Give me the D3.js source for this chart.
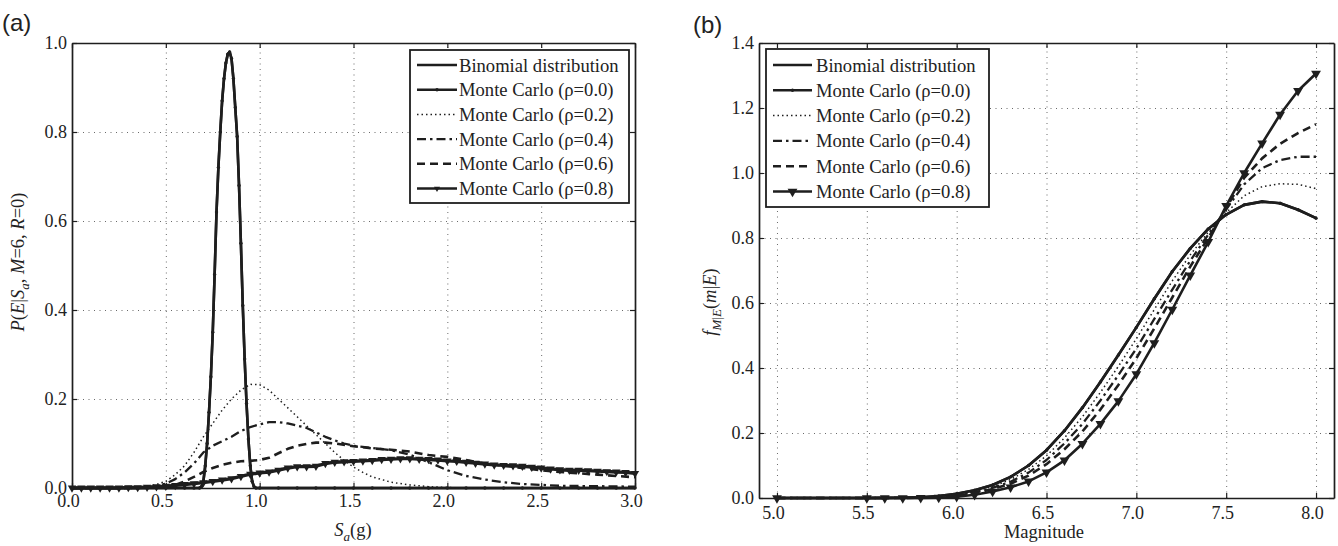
<!DOCTYPE html>
<html>
<head>
<meta charset="utf-8">
<script src="https://cdn.jsdelivr.net/npm/d3@7"></script>
<style>
  body { margin: 0; background: #fff; }
</style>
</head>
<body>
<svg id="chart" width="1338" height="546"></svg>
<script>
// ---------- Data: panel (a) ----------
// S_a grid for the sharp peak (binomial and rho=0.0 lie on top of each other)
const peakSa = [0, 0.1, 0.2, 0.3, 0.4, 0.5, 0.6, 0.65, 0.68,
  0.69, 0.70, 0.71, 0.72, 0.73, 0.74, 0.75, 0.76, 0.77, 0.78,
  0.79, 0.80, 0.81, 0.82, 0.83, 0.84, 0.85, 0.86, 0.87, 0.88,
  0.89, 0.90, 0.91, 0.92, 0.93, 0.94, 0.95, 0.96, 0.97, 0.98,
  1.0, 1.1, 1.2, 1.3, 1.4, 1.5, 1.6, 1.7, 1.8, 1.9, 2.0,
  2.1, 2.2, 2.3, 2.4, 2.5, 2.6, 2.7, 2.8, 2.9, 3.0];
const binomialA = [0, 0, 0, 0, 0, 0, 0, 0, 0,
  0.003, 0.015, 0.05, 0.10, 0.17, 0.25, 0.35, 0.48, 0.62, 0.72,
  0.80, 0.87, 0.92, 0.955, 0.975, 0.98, 0.965, 0.92, 0.855, 0.79,
  0.68, 0.55, 0.41, 0.29, 0.19, 0.11, 0.05, 0.015, 0.003, 0,
  0, 0, 0, 0, 0, 0, 0, 0, 0, 0, 0,
  0, 0, 0, 0, 0, 0, 0, 0, 0, 0];
const rho0A = binomialA;

const rho2Sa = [0, 0.3, 0.4, 0.45, 0.5, 0.55, 0.6, 0.65, 0.7, 0.75,
  0.8, 0.85, 0.9, 0.95, 1.0, 1.05, 1.1, 1.15, 1.2, 1.25,
  1.3, 1.35, 1.4, 1.45, 1.5, 1.55, 1.6, 1.7, 1.8, 1.9,
  2.0, 2.2, 2.5, 3.0];
const rho2A = [0, 0, 0.003, 0.008, 0.015, 0.03, 0.05, 0.08, 0.115, 0.145,
  0.175, 0.2, 0.22, 0.233, 0.232, 0.22, 0.2, 0.18, 0.16, 0.14,
  0.12, 0.1, 0.08, 0.062, 0.047, 0.035, 0.025, 0.013, 0.007, 0.003,
  0.001, 0, 0, 0];

const rho4Sa = [0, 0.35, 0.45, 0.5, 0.55, 0.6, 0.65, 0.7, 0.75, 0.8,
  0.85, 0.9, 0.95, 1.0, 1.05, 1.1, 1.15, 1.2, 1.25, 1.3,
  1.35, 1.4, 1.45, 1.5, 1.6, 1.7, 1.8, 1.9, 2.0, 2.1,
  2.2, 2.3, 2.4, 2.5, 2.6, 2.8, 3.0];
const rho4A = [0, 0, 0.004, 0.01, 0.02, 0.035, 0.055, 0.08, 0.095, 0.105,
  0.115, 0.128, 0.137, 0.143, 0.148, 0.148, 0.145, 0.14, 0.135, 0.125,
  0.115, 0.107, 0.1, 0.095, 0.09, 0.085, 0.075, 0.058, 0.04, 0.027,
  0.019, 0.013, 0.009, 0.007, 0.005, 0.004, 0.003];

const rho6Sa = [0, 0.4, 0.5, 0.55, 0.6, 0.65, 0.7, 0.75, 0.8, 0.85,
  0.9, 0.95, 1.0, 1.05, 1.1, 1.15, 1.2, 1.25, 1.3, 1.35,
  1.4, 1.5, 1.6, 1.7, 1.8, 1.9, 2.0, 2.1, 2.2, 2.3,
  2.4, 2.5, 2.6, 2.7, 2.8, 2.9, 3.0];
const rho6A = [0, 0, 0.003, 0.007, 0.015, 0.025, 0.036, 0.045, 0.052, 0.057,
  0.06, 0.061, 0.063, 0.068, 0.078, 0.088, 0.095, 0.099, 0.102, 0.102,
  0.1, 0.094, 0.089, 0.086, 0.082, 0.074, 0.07, 0.063, 0.055, 0.05,
  0.045, 0.04, 0.036, 0.033, 0.03, 0.027, 0.024];

// rho=0.8 is sampled every 0.05 g
const rho8Sa = d3.range(61).map(i => i * 0.05);
const rho8A = [0, 0, 0, 0, 0, 0, 0.001, 0.001, 0.002, 0.003,
  0.004, 0.006, 0.008, 0.010, 0.012, 0.015, 0.018, 0.021, 0.026, 0.031,
  0.034, 0.036, 0.040, 0.045, 0.048, 0.048, 0.049, 0.055, 0.058, 0.059,
  0.060, 0.061, 0.062, 0.064, 0.065, 0.066, 0.066, 0.065, 0.064, 0.063,
  0.061, 0.060, 0.058, 0.056, 0.054, 0.052, 0.051, 0.050, 0.049, 0.047,
  0.045, 0.043, 0.041, 0.040, 0.040, 0.039, 0.038, 0.037, 0.036, 0.035,
  0.033];

// ---------- Data: panel (b) ----------
const magnitudes = [5.0, 5.5, 5.6, 5.7, 5.8, 5.9, 6.0, 6.1, 6.2, 6.3,
  6.4, 6.5, 6.6, 6.7, 6.8, 6.9, 7.0, 7.1, 7.2, 7.3,
  7.4, 7.5, 7.6, 7.7, 7.8, 7.9, 8.0];
const rho0B = [0, 0, 0.0005, 0.001, 0.002, 0.006, 0.013, 0.024, 0.04, 0.065,
  0.1, 0.147, 0.207, 0.278, 0.357, 0.44, 0.525, 0.613, 0.697, 0.768,
  0.828, 0.872, 0.902, 0.912, 0.907, 0.887, 0.861];
const binomialB = rho0B;
const rho2B = [0, 0, 0, 0.001, 0.002, 0.005, 0.011, 0.021, 0.035, 0.057,
  0.088, 0.13, 0.185, 0.25, 0.325, 0.405, 0.49, 0.58, 0.668, 0.748,
  0.818, 0.878, 0.93, 0.958, 0.967, 0.965, 0.952];
const rho4B = [0, 0, 0, 0.0005, 0.001, 0.004, 0.009, 0.018, 0.031, 0.05,
  0.078, 0.117, 0.168, 0.228, 0.3, 0.378, 0.46, 0.551, 0.641, 0.73,
  0.81, 0.888, 0.965, 1.015, 1.04, 1.05, 1.05];
const rho6B = [0, 0, 0, 0, 0.001, 0.003, 0.007, 0.015, 0.027, 0.044,
  0.069, 0.104, 0.15, 0.205, 0.272, 0.348, 0.43, 0.522, 0.617, 0.712,
  0.8, 0.893, 0.985, 1.045, 1.09, 1.123, 1.15];
const rho8B = [0, 0, 0, 0, 0.0005, 0.001, 0.004, 0.01, 0.02, 0.033,
  0.051, 0.079, 0.116, 0.167, 0.228, 0.298, 0.381, 0.477, 0.58, 0.685,
  0.788, 0.899, 1.0, 1.091, 1.18, 1.253, 1.306];

// ---------- Ticks and legend labels ----------
const saTicks = [0, 0.5, 1.0, 1.5, 2.0, 2.5, 3.0];
const probTicks = [0, 0.2, 0.4, 0.6, 0.8, 1.0];
const magTicks = [5.0, 5.5, 6.0, 6.5, 7.0, 7.5, 8.0];
const densTicks = [0, 0.2, 0.4, 0.6, 0.8, 1.0, 1.2, 1.4];
const legendLabels = ["Binomial distribution", "Monte Carlo (ρ=0.0)",
  "Monte Carlo (ρ=0.2)", "Monte Carlo (ρ=0.4)", "Monte Carlo (ρ=0.6)",
  "Monte Carlo (ρ=0.8)"];

// Line styles shared by both panels (same order as the legend)
const styles = [
  { dash: null, width: 2.6, marker: null },
  { dash: null, width: 2.6, marker: "dot" },
  { dash: "1.5,3", width: 1.5, marker: null },
  { dash: "9,4,2.5,4", width: 2.3, marker: null },
  { dash: "8,5", width: 2.6, marker: null },
  { dash: null, width: 2.6, marker: "tri" },
];

const ink = "#1e1e1e";
const serif = "Liberation Serif";
const svg = d3.select("#chart");

function zip(xs, ys) {
  return xs.map((v, i) => [v, ys[i]]);
}

function drawMarker(sel, kind, triSize) {
  if (kind === "dot") {
    sel.append("circle").attr("r", 1.7).attr("fill", ink);
  } else if (kind === "tri") {
    sel.append("path")
      .attr("d", d3.symbol(d3.symbolTriangle, triSize)())
      .attr("transform", "rotate(180)")
      .attr("fill", ink);
  }
}

function drawPanel(cfg) {
  const g = svg.append("g");

  // Scales
  const x = d3.scaleLinear().domain(cfg.xDomain).range([cfg.left, cfg.right]);
  const y = d3.scaleLinear().domain(cfg.yDomain).range([cfg.bottom, cfg.top]);
  const h = cfg.bottom - cfg.top;
  const w = cfg.right - cfg.left;

  // Dotted grid
  g.append("g")
    .attr("transform", `translate(0,${cfg.bottom})`)
    .call(d3.axisBottom(x).tickValues(cfg.xGrid).tickSize(-h).tickFormat(""))
    .call(s => s.select(".domain").remove())
    .selectAll("line").attr("class", "grid");
  g.append("g")
    .attr("transform", `translate(${cfg.left},0)`)
    .call(d3.axisLeft(y).tickValues(cfg.yGrid).tickSize(-w).tickFormat(""))
    .call(s => s.select(".domain").remove())
    .selectAll("line").attr("class", "grid");
  g.selectAll("line.grid").attr("stroke", "#6a6a6a").attr("stroke-dasharray", "1,4.5");

  // Inward ticks on all four sides, labels on bottom and left
  const fmt = d3.format(".1f");
  const axes = g.append("g");
  const bottomAx = axes.append("g")
    .attr("transform", `translate(0,${cfg.bottom})`)
    .call(d3.axisBottom(x).tickValues(cfg.xTicks).tickSize(-5).tickSizeOuter(0)
      .tickFormat(fmt).tickPadding(cfg.xPad));
  const leftAx = axes.append("g")
    .attr("transform", `translate(${cfg.left},0)`)
    .call(d3.axisLeft(y).tickValues(cfg.yTicks).tickSize(-5).tickSizeOuter(0)
      .tickFormat(fmt).tickPadding(5));
  axes.append("g")
    .attr("transform", `translate(0,${cfg.top})`)
    .call(d3.axisTop(x).tickValues(cfg.xTicks).tickSize(-5).tickSizeOuter(0).tickFormat(""));
  axes.append("g")
    .attr("transform", `translate(${cfg.right},0)`)
    .call(d3.axisRight(y).tickValues(cfg.yTicks).tickSize(-5).tickSizeOuter(0).tickFormat(""));

  axes.selectAll(".domain").attr("stroke", ink).attr("stroke-width", 1.7);
  axes.selectAll(".tick line").attr("stroke", ink).attr("stroke-width", 1.2);

  bottomAx.selectAll("text").attr("font-size", 18).attr("dx", -4)
    .attr("font-family", serif).attr("fill", "#222");
  leftAx.selectAll("text").attr("font-size", 18)
    .attr("font-family", serif).attr("fill", "#222");

  // Curves
  const line = d3.line().x(d => x(d[0])).y(d => y(d[1]));
  cfg.series.forEach((s, i) => {
    const st = styles[i];
    const pts = zip(s.x, s.y);
    g.append("path")
      .attr("d", line(pts))
      .attr("fill", "none")
      .attr("stroke", ink)
      .attr("stroke-width", i === 5 ? cfg.bandWidth : st.width)
      .attr("stroke-linejoin", "round")
      .attr("stroke-dasharray", st.dash);
    if (st.marker) {
      g.append("g").selectAll("g")
        .data(pts)
        .join("g")
        .attr("transform", d => `translate(${x(d[0])},${y(d[1])})`)
        .each(function () { drawMarker(d3.select(this), st.marker, cfg.triSize); });
    }
  });

  // Legend
  const lg = cfg.legend;
  g.append("rect")
    .attr("x", lg.x).attr("y", lg.y).attr("width", lg.w).attr("height", lg.h)
    .attr("fill", "#fff").attr("stroke", ink).attr("stroke-width", 1.8);
  legendLabels.forEach((label, i) => {
    const st = styles[i];
    const cy = lg.row0 + i * lg.step;
    g.append("line")
      .attr("x1", lg.x1).attr("x2", lg.x2).attr("y1", cy).attr("y2", cy)
      .attr("stroke", ink).attr("stroke-width", st.width)
      .attr("stroke-dasharray", st.dash);
    if (st.marker) {
      const m = g.append("g").attr("transform", `translate(${(lg.x1 + lg.x2) / 2},${cy})`);
      drawMarker(m, st.marker, lg.triSize);
    }
    g.append("text")
      .attr("x", lg.tx).attr("y", cy).attr("dy", "0.35em")
      .attr("font-family", serif).attr("font-size", 18.6).attr("fill", "#222")
      .text(label);
  });

  return { x, y };
}

// ---------- Panel (a) ----------
drawPanel({
  left: 72, right: 635, top: 43, bottom: 488,
  xDomain: [0, 3], yDomain: [0, 1],
  xTicks: saTicks, yTicks: probTicks,
  xGrid: [0.5, 1.0, 1.5, 2.0, 2.5], yGrid: [0.2, 0.4, 0.6, 0.8],
  xPad: 6, triSize: 30, bandWidth: 3.4,
  series: [
    { x: peakSa, y: binomialA },
    { x: peakSa, y: rho0A },
    { x: rho2Sa, y: rho2A },
    { x: rho4Sa, y: rho4A },
    { x: rho6Sa, y: rho6A },
    { x: rho8Sa, y: rho8A },
  ],
  legend: { x: 410, y: 50, w: 219, h: 153, row0: 65, step: 24.7, x1: 417, x2: 457, tx: 459, triSize: 16 },
});

// ---------- Panel (b) ----------
drawPanel({
  left: 759, right: 1334, top: 43, bottom: 498,
  xDomain: [4.9, 8.1], yDomain: [0, 1.4],
  xTicks: magTicks, yTicks: densTicks,
  xGrid: magTicks, yGrid: [0.2, 0.4, 0.6, 0.8, 1.0, 1.2],
  xPad: 8, triSize: 42, bandWidth: 2.6,
  series: [
    { x: magnitudes, y: binomialB },
    { x: magnitudes, y: rho0B },
    { x: magnitudes, y: rho2B },
    { x: magnitudes, y: rho4B },
    { x: magnitudes, y: rho6B },
    { x: magnitudes, y: rho8B },
  ],
  legend: { x: 766, y: 49, w: 223, h: 158, row0: 65, step: 25.3, x1: 773, x2: 812, tx: 816, triSize: 42 },
});

// ---------- Panel letters ----------
svg.append("text").attr("x", 2).attr("y", 31).attr("fill", "#222")
  .attr("font-family", "Liberation Sans").attr("font-size", 24).text("(a)");
svg.append("text").attr("x", 693).attr("y", 33).attr("fill", "#222")
  .attr("font-family", "Liberation Sans").attr("font-size", 24).text("(b)");

// ---------- Axis titles ----------
function title(sel) {
  return sel.attr("font-family", serif).attr("font-size", 18.5).attr("fill", "#222")
    .attr("text-anchor", "middle");
}

const xa = title(svg.append("text").attr("x", 353).attr("y", 536));
xa.append("tspan").attr("font-style", "italic").text("S");
xa.append("tspan").attr("font-style", "italic").attr("font-size", 13).attr("dy", 5).text("a");
xa.append("tspan").attr("dy", -5).text("(g)");

const ya = title(svg.append("text").attr("transform", "translate(24,262) rotate(-90)"));
ya.append("tspan").attr("font-style", "italic").text("P");
ya.append("tspan").text("(");
ya.append("tspan").attr("font-style", "italic").text("E");
ya.append("tspan").text("|");
ya.append("tspan").attr("font-style", "italic").text("S");
ya.append("tspan").attr("font-style", "italic").attr("font-size", 13).attr("dy", 5).text("a");
ya.append("tspan").attr("dy", -5).text(", ");
ya.append("tspan").attr("font-style", "italic").text("M");
ya.append("tspan").text("=6, ");
ya.append("tspan").attr("font-style", "italic").text("R");
ya.append("tspan").text("=0)");

title(svg.append("text").attr("x", 1044).attr("y", 538)).text("Magnitude");

const yb = title(svg.append("text").attr("transform", "translate(716,302) rotate(-90)"));
yb.append("tspan").attr("font-style", "italic").text("f");
yb.append("tspan").attr("font-style", "italic").attr("font-size", 13).attr("dy", 5).text("M");
yb.append("tspan").attr("font-size", 13).text("|");
yb.append("tspan").attr("font-style", "italic").attr("font-size", 13).text("E");
yb.append("tspan").attr("dy", -5).text("(");
yb.append("tspan").attr("font-style", "italic").text("m");
yb.append("tspan").text("|");
yb.append("tspan").attr("font-style", "italic").text("E");
yb.append("tspan").text(")");
</script>
</body>
</html>
